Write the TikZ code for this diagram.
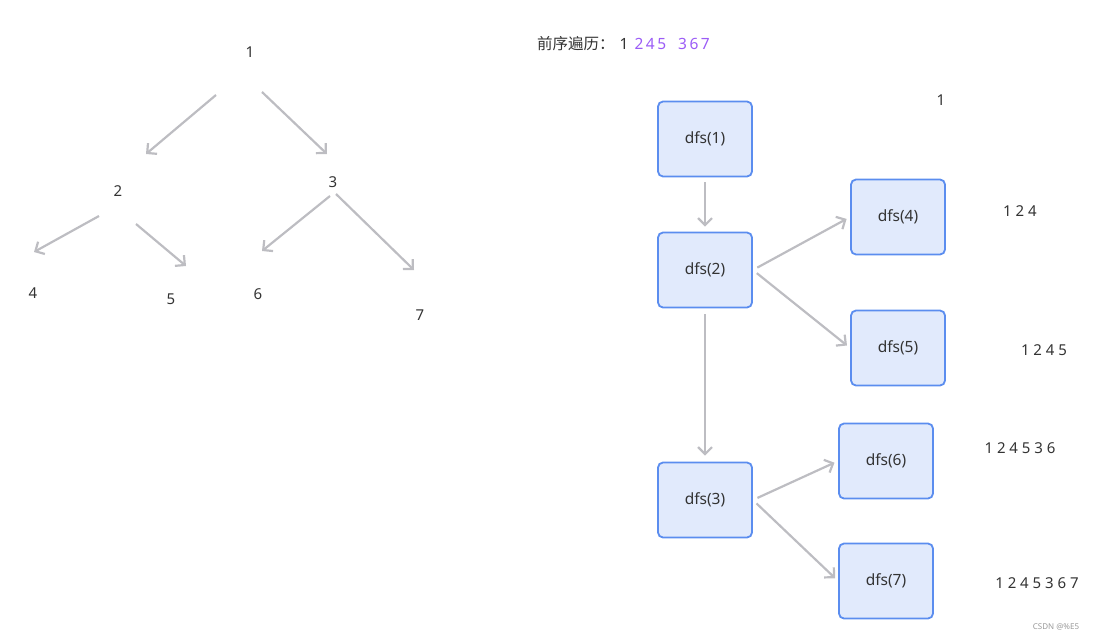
\documentclass[tikz,border=0pt]{standalone}
\usepackage{fontspec}
\setmainfont{Noto Sans}
\newfontfamily\cjk{Noto Sans CJK SC}
\usetikzlibrary{arrows.meta}
\definecolor{txt}{HTML}{333333}
\definecolor{arr}{HTML}{BDBDC2}
\definecolor{boxfill}{HTML}{E1EAFC}
\definecolor{boxdraw}{HTML}{5B8DEF}
\definecolor{purp}{HTML}{9B5CF6}
\tikzset{
  lbl/.style={text=txt, font=\fontsize{15}{18}\selectfont, inner sep=0pt},
  conn/.style={draw=arr, line width=2.2pt, -{Straight Barb[length=7pt,width=14pt,line width=2.2pt]}},
  dfsbox/.style={draw=boxdraw, fill=boxfill, line width=1.8pt, rounded corners=5pt,
    minimum width=94pt, minimum height=75pt, text=txt, font=\fontsize{15.5}{18}\selectfont},
}
\begin{document}
\begin{tikzpicture}[x=1pt,y=-1pt]
\useasboundingbox (0,0) rectangle (1097,640);
% left tree
\node[lbl] (t1) at (250,52) {1};
\node[lbl] (t2) at (118,191) {2};
\node[lbl] (t3) at (333,182) {3};
\node[lbl] (t4) at (33,293) {4};
\node[lbl] (t5) at (171,299) {5};
\node[lbl] (t6) at (258,294) {6};
\node[lbl] (t7) at (420,315) {7};
\coordinate (a1s) at (216,95);  \coordinate (a1e) at (146,154);
\coordinate (a2s) at (262,92);  \coordinate (a2e) at (327,154);
\coordinate (a3s) at (99,216);  \coordinate (a3e) at (34,252);
\coordinate (a4s) at (136,224); \coordinate (a4e) at (186,266);
\coordinate (a5s) at (330,196); \coordinate (a5e) at (262,251);
\coordinate (a6s) at (336,194); \coordinate (a6e) at (414,270);
\draw[conn] (a1s) -- (a1e);
\draw[conn] (a2s) -- (a2e);
\draw[conn] (a3s) -- (a3e);
\draw[conn] (a4s) -- (a4e);
\draw[conn] (a5s) -- (a5e);
\draw[conn] (a6s) -- (a6e);
% header
\node[lbl, anchor=west, font=\fontsize{15.5}{18}\selectfont] (hdr) at (537,44)
  {{\cjk 前序遍历：}\hspace{5pt}1\hspace{6pt}\textcolor{purp}{2\hspace{2.5pt}4\hspace{2.5pt}5\hspace{12pt}3\hspace{2.5pt}6\hspace{2.5pt}7}};
% dfs boxes
\node[dfsbox] (d1) at (705,139) {dfs(1)};
\node[dfsbox] (d2) at (705,270) {dfs(2)};
\node[dfsbox] (d4) at (898,217) {dfs(4)};
\node[dfsbox] (d5) at (898,348) {dfs(5)};
\node[dfsbox] (d3) at (705,500) {dfs(3)};
\node[dfsbox] (d6) at (886,461) {dfs(6)};
\node[dfsbox] (d7) at (886,581) {dfs(7)};
\draw[conn, shorten <=5pt, shorten >=5pt] (d1.south) -- (d2.north);
\draw[conn, shorten <=6pt, shorten >=6pt] (d2.south) -- (d3.north);
\draw[conn, shorten <=5pt, shorten >=4pt] (d2.east) -- (d4.west);
\draw[conn, shorten <=5pt, shorten >=4pt] (d2.east) -- (d5.west);
\draw[conn, shorten <=5pt, shorten >=4pt] (d3.east) -- (d6.west);
\draw[conn, shorten <=5pt, shorten >=4pt] (d3.east) -- (d7.west);
% sequences
\node[lbl] (s1) at (941,100) {1};
\node[lbl] (s4) at (1020,211) {1 2 4};
\node[lbl] (s5) at (1044,350) {1 2 4 5};
\node[lbl] (s6) at (1020,448) {1 2 4 5 3 6};
\node[lbl] (s7) at (1037,583) {1 2 4 5 3 6 7};
\node[text=gray!80, font=\fontsize{8}{10}\selectfont, inner sep=0pt] (wm) at (1056,627) {CSDN @\%E5};
\end{tikzpicture}
\end{document}
